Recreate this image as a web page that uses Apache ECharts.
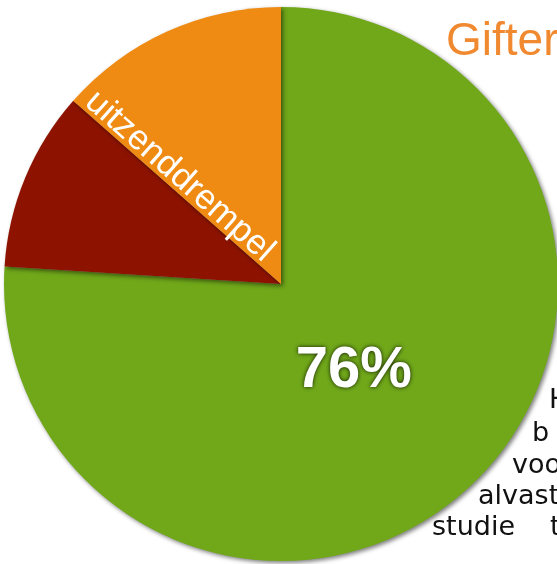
<!DOCTYPE html>
<html>
<head>
<meta charset="utf-8">
<script src="https://cdn.jsdelivr.net/npm/echarts@6/dist/echarts.min.js"></script>
<style>
  html, body { margin: 0; padding: 0; background: #fff; }
  #main { width: 557px; height: 564px; }
</style>
</head>
<body>
<div id="main"></div>
<script>
// slices, clockwise from 12 o'clock
const names = ['gehaald', 'onder drempel', 'uitzenddrempel'];
const values = [76, 10.5, 13.5];
const colors = ['#70a81a', '#8d1300', '#ef8b12'];
const showLabel = [true, false, false];

// text fragments right of the pie (cut off by the frame)
const sideLines = ['H', 'b', 'voo', 'alvast', 'studie', 't'];

const chart = echarts.init(document.getElementById('main'));

const pieData = names.map((n, i) => ({
  name: n,
  value: values[i],
  itemStyle: { color: colors[i] },
  label: { show: showLabel[i] },
}));

const sideText = [
  [549, 414], [532, 447], [512, 479], [478, 510], [432, 541], [550, 541],
].map((p, i) => ({
  type: 'text',
  x: p[0],
  y: p[1],
  z: 10,
  style: {
    text: sideLines[i],
    font: '27px "DejaVu Sans"',
    fill: '#111',
    verticalAlign: 'bottom',
  },
}));

const option = {
  backgroundColor: '#fff',
  animation: false,
  series: [
    {
      type: 'pie',
      center: [281, 284],
      radius: 277,
      startAngle: 90,
      clockwise: true,
      silent: true,
      itemStyle: {
        shadowBlur: 4,
        shadowOffsetX: 2,
        shadowOffsetY: 2,
        shadowColor: 'rgba(0,0,0,0.5)',
      },
      label: {
        position: 'inside',
        formatter: '{c}%',
        color: '#fff',
        fontFamily: 'Liberation Sans',
        fontWeight: 'bold',
        fontSize: 58,
        textShadowColor: 'rgba(0,0,0,0.85)',
        textShadowBlur: 4,
      },
      labelLayout: { dx: -24, dy: -16 },
      labelLine: { show: false },
      data: pieData,
    },
  ],
  graphic: [
    {
      type: 'text',
      x: 446,
      y: 19,
      style: {
        text: 'Gifter',
        font: '46px "Liberation Sans"',
        fill: '#f0892f',
      },
    },
    {
      type: 'text',
      x: 90,
      y: 97,
      rotation: -41.5 * Math.PI / 180,
      z: 10,
      style: {
        text: 'uitzenddrempel',
        font: '35px "Liberation Sans"',
        fill: '#fff',
        verticalAlign: 'middle',
        shadowColor: 'rgba(0,0,0,0.7)',
        shadowBlur: 3,
      },
    },
    ...sideText,
  ],
};

chart.setOption(option);
</script>
</body>
</html>
